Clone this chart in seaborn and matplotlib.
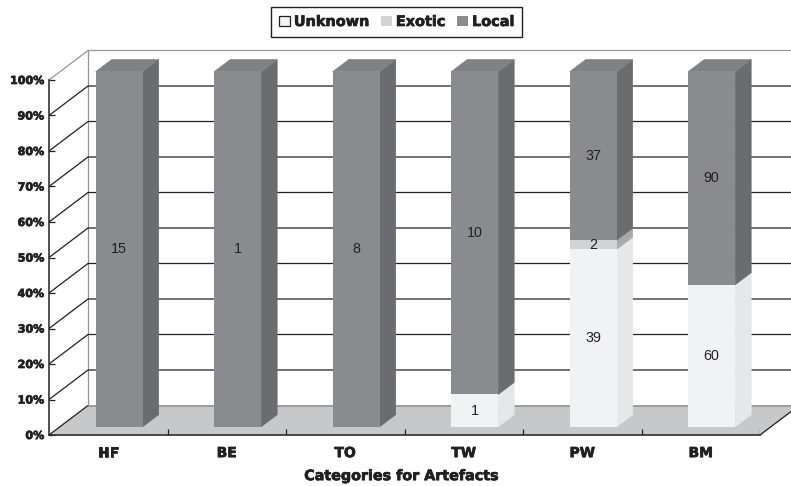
import matplotlib
matplotlib.use("Agg")
import matplotlib.patheffects as pe
import matplotlib.pyplot as plt
import numpy as np
import pandas as pd
import seaborn as sns
from matplotlib.patches import Patch

# counts printed on the bars
categories = ["HF", "BE", "TO", "TW", "PW", "BM"]
unknown = [0, 0, 0, 1, 39, 60]
exotic = [0, 0, 0, 0, 2, 0]
local = [15, 1, 8, 10, 37, 90]
series_names = ["Unknown", "Exotic", "Local"]
y_ticks = [0, 10, 20, 30, 40, 50, 60, 70, 80, 90, 100]

INK = "#231f20"
front_colors = {"Unknown": "#f1f2f4", "Exotic": "#d1d3d4", "Local": "#8a8b8e"}
side_colors = {"Unknown": "#e6e7e9", "Exotic": "#a7a9ac", "Local": "#6b6c6f"}
top_color = "#808184"
floor_color = "#c7c8ca"
wall_color = "#939598"

# size of the fake 3D depth, in category units and percent
DX = 39 / 118.5
DY = 29.5 / 3.55
BAR_FRONT = 0.28
BAR_BACK = 0.69
BAR_WIDTH = 47 / 118.5

HEAVY = [pe.withStroke(linewidth=0.5, foreground=INK)]


def shift(x, y, f):
    return x + f * DX, y + f * DY


def face(ax, corners, color, zorder):
    pts = [shift(*c) for c in corners]
    ax.fill(
        [p[0] for p in pts],
        [p[1] for p in pts],
        facecolor=color,
        edgecolor=color,
        linewidth=0.5,
        zorder=zorder,
        clip_on=False,
    )


sns.set_style("white")
plt.rcParams["font.family"] = ["DejaVu Sans"]

# 0. Table of shares
df = pd.DataFrame(
    {"category": categories, "Unknown": unknown, "Exotic": exotic, "Local": local}
)
totals = df[series_names].sum(axis=1)
shares = df[series_names].div(totals, axis=0) * 100
bottoms = shares.cumsum(axis=1).shift(1, axis=1).fillna(0)

fig = plt.figure(figsize=(7.91, 4.86), dpi=100)
ax = fig.add_axes([49 / 791, 1 - 435 / 486, 711 / 791, 355 / 486])
ax.patch.set_visible(False)

# 1. Front faces through seaborn, then moved back onto the floor
for name in series_names:
    plot_df = pd.DataFrame({"category": categories, "share": shares[name]})
    sns.barplot(
        data=plot_df,
        x="category",
        y="share",
        color=front_colors[name],
        saturation=1,
        width=BAR_WIDTH,
        bottom=bottoms[name].to_numpy(),
        linewidth=0,
        errorbar=None,
        zorder=5,
        ax=ax,
    )
for container in ax.containers:
    for patch in container:
        patch.set_x(patch.get_x() + BAR_FRONT * DX)
        patch.set_y(patch.get_y() + BAR_FRONT * DY)
        patch.set_clip_on(False)

ax.set_xlim(-0.5, 5.5)
ax.set_ylim(0, 100)

# 2. Walls, floor and grid
left, right = -0.5, 5.5
line_kws = dict(zorder=2, clip_on=False, solid_capstyle="butt")
face(ax, [(left, 0, 0), (right, 0, 0), (right, 0, 1), (left, 0, 1)], floor_color, 1)
ax.plot(*zip(shift(left, 0, 1), shift(right, 0, 1)), color=wall_color, lw=1.2, **line_kws)
ax.plot(*zip(shift(left, 0, 1), shift(left, 100, 1), shift(right, 100, 1)), color=wall_color, lw=0.9, **line_kws)
ax.plot(*zip(shift(left, 100, 0), shift(left, 100, 1)), color=wall_color, lw=0.9, **line_kws)
for tick in y_ticks[1:-1]:
    ax.plot(*zip(shift(left, tick, 0), shift(left, tick, 1), shift(right, tick, 1)), color=INK, lw=0.9, **line_kws)
ax.plot(*zip(shift(left, 0, 0), shift(left, 0, 1)), color=INK, lw=0.9, **line_kws)
ax.plot(*zip(shift(right, 0, 0), shift(right, 0, 1)), color=INK, lw=0.9, **line_kws)

# tick marks between categories, rising from the front edge of the floor
ax.vlines(np.arange(len(categories)) + 0.5, 0, 1.7, color=INK, lw=0.9, zorder=3)

# 3. Side and top faces of the bars, plus the counts
half = BAR_WIDTH / 2
for i, cat in enumerate(categories):
    x1 = i + half
    x0 = i - half
    for name in series_names:
        lo = bottoms[name].iloc[i]
        hi = lo + shares[name].iloc[i]
        if hi > lo:
            face(
                ax,
                [(x1, lo, BAR_FRONT), (x1, hi, BAR_FRONT), (x1, hi, BAR_BACK), (x1, lo, BAR_BACK)],
                side_colors[name],
                4,
            )
            cx, cy = shift(i, (lo + hi) / 2, BAR_FRONT)
            ax.text(
                cx, cy, str(df[name].iloc[i]),
                ha="center", va="center", fontsize=10.3,
                family="Liberation Sans", color=INK, zorder=6,
            )
    face(ax, [(x0, 100, BAR_FRONT), (x1, 100, BAR_FRONT), (x1, 100, BAR_BACK), (x0, 100, BAR_BACK)], top_color, 4)

# 4. Axes styling
sns.despine(ax=ax, top=True, right=True)
for spine in ["left", "bottom"]:
    ax.spines[spine].set_color(INK)
    ax.spines[spine].set_linewidth(1.1)
    ax.spines[spine].set_zorder(3)
ax.set_yticks(y_ticks)
ax.set_yticklabels([f"{t}%" for t in y_ticks], fontsize=8, fontweight="bold", color=INK)
ax.tick_params(axis="y", direction="in", length=4, width=0.9, color=INK, left=True, pad=3.5)
ax.set_xticks(np.arange(len(categories)))
ax.set_xticklabels(categories, fontsize=10, fontweight="bold", color=INK)
ax.tick_params(axis="x", bottom=False, pad=4.5)
ax.set_ylabel("")
ax.set_xlabel(
    "Categories for Artefacts", fontsize=10.3, fontweight="bold", color=INK,
    labelpad=6.5, x=(401.5 - 49) / 711,
)
ax.xaxis.label.set_path_effects(HEAVY)
for label in ax.get_xticklabels() + ax.get_yticklabels():
    label.set_path_effects(HEAVY)

handles = [
    Patch(facecolor=front_colors["Unknown"], edgecolor=INK, linewidth=0.9, label="Unknown"),
    Patch(facecolor=front_colors["Exotic"], edgecolor="none", label="Exotic"),
    Patch(facecolor=front_colors["Local"], edgecolor="none", label="Local"),
]
leg = fig.legend(
    handles=handles,
    loc="center",
    bbox_to_anchor=(396.5 / 791, 1 - 22 / 486),
    ncol=3,
    frameon=True,
    fancybox=False,
    edgecolor=INK,
    framealpha=1,
    handlelength=0.75,
    handleheight=0.75,
    handletextpad=0.3,
    columnspacing=0.8,
    borderpad=0.55,
    prop={"size": 10.4, "weight": "bold"},
)
leg.get_frame().set_linewidth(1.0)
for text in leg.get_texts():
    text.set_color(INK)
    text.set_path_effects(HEAVY)

fig.savefig("out.png", dpi=100)
